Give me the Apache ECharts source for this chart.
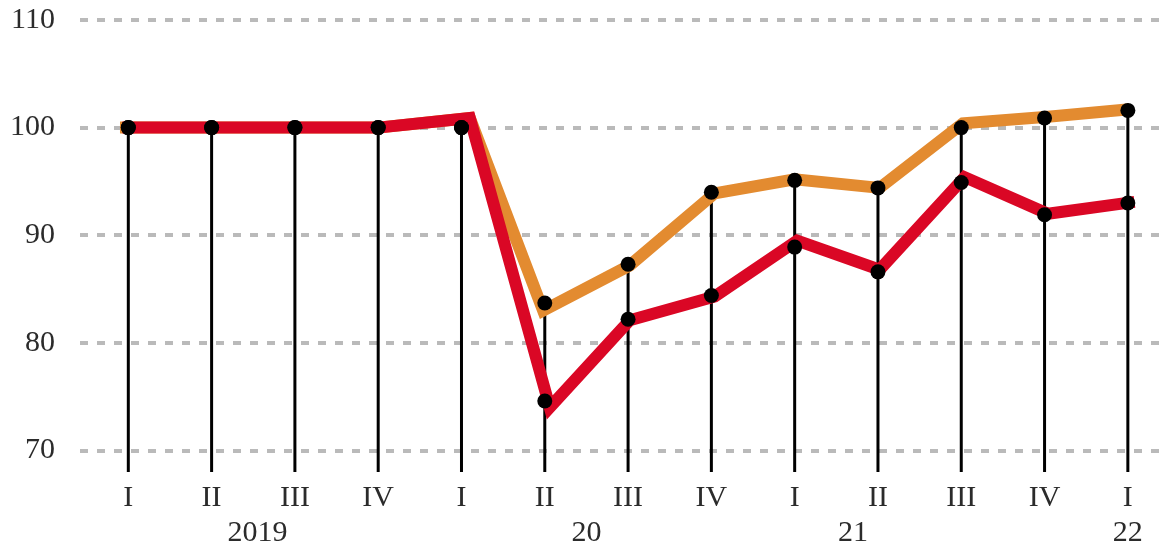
<!DOCTYPE html>
<html>
<head>
<meta charset="utf-8">
<script src="https://cdn.jsdelivr.net/npm/echarts@6/dist/echarts.min.js"></script>
<style>
  html, body { margin: 0; padding: 0; background: #fff; }
  #chart { width: 1167px; height: 550px; }
</style>
</head>
<body>
<div id="chart"></div>
<script>
// x labels
var quarterLabels = ['I', 'II', 'III', 'IV', 'I', 'II', 'III', 'IV', 'I', 'II', 'III', 'IV', 'I'];
var yearLabels = ['2019', '20', '21', '22'];
var yearPositions = [1.55, 5.5, 8.7, 12];
var yTicks = [70, 80, 90, 100, 110];

// black dots (upper = orange series, lower = red series)
var orangeDots = [100, 100, 100, 100, 100, 83.7, 87.3, 94.0, 95.1, 94.4, 100.0, 100.9, 101.6];
var redDots = [100, 100, 100, 100, 100, 74.6, 82.2, 84.4, 88.9, 86.6, 94.9, 91.9, 93.0];

// the coloured lines are drawn slightly off the dots in the original
var orangeLineX = [-0.1, 1, 2, 3, 4.1, 4.98, 6.02, 7.04, 8.0, 9.02, 10.02, 11.04, 12.02];
var orangeLineY = [100, 100, 100, 100, 100.9, 83.0, 87.2, 93.9, 95.2, 94.4, 100.4, 101.0, 101.7];
var redLineX = [-0.07, 1, 2, 3, 4.1, 5.06, 6.02, 7.04, 8.03, 9.02, 10.04, 11.04, 12.08];
var redLineY = [100, 100, 100, 100, 100.9, 74.0, 82.1, 84.3, 89.5, 86.8, 95.4, 92.0, 93.1];

var quarterIdx = quarterLabels.map(function (_, i) { return i; });
var fontFam = 'Liberation Serif';
var textColor = '#2b2b2b';

var chart = echarts.init(document.getElementById('chart'));
chart.setOption({
  animation: false,
  grid: { left: 80, right: 0, top: 20, bottom: 78 },
  xAxis: [{
    type: 'value',
    min: -0.58,
    max: 12.47,
    position: 'bottom',
    axisLine: { show: false },
    axisTick: { show: false },
    splitLine: { show: false },
    axisLabel: {
      customValues: quarterIdx,
      formatter: function (v) { return quarterLabels[Math.round(v)]; },
      margin: 11,
      fontSize: 30,
      fontFamily: fontFam,
      color: textColor
    }
  }, {
    type: 'value',
    min: -0.58,
    max: 12.47,
    position: 'bottom',
    axisLine: { show: false },
    axisTick: { show: false },
    splitLine: { show: false },
    axisLabel: {
      customValues: yearPositions,
      formatter: function (v) { return yearLabels[yearPositions.indexOf(v)]; },
      margin: 46,
      fontSize: 30,
      fontFamily: fontFam,
      color: textColor
    }
  }],
  yAxis: {
    type: 'value',
    min: 68,
    max: 110,
    axisLine: { show: false },
    axisTick: { show: false },
    splitLine: { show: false },
    axisLabel: {
      customValues: yTicks,
      margin: 25,
      fontSize: 30,
      fontFamily: fontFam,
      color: textColor
    }
  },
  series: [
    {
      // holder for dashed grid lines
      type: 'line',
      data: [],
      markLine: {
        silent: true,
        z: 1,
        symbol: ['none', 'none'],
        label: { show: false },
        lineStyle: { type: [8, 9], width: 4, color: '#bababa' },
        data: yTicks.map(function (v) { return { yAxis: v }; })
      }
    },
    {
      name: 'stems',
      type: 'bar',
      barWidth: 3,
      z: 2,
      itemStyle: { color: '#000' },
      data: orangeDots.map(function (v, i) { return [i, v]; })
    },
    {
      name: 'orange',
      type: 'line',
      z: 3,
      symbol: 'none',
      lineStyle: { width: 12, color: '#e38b30', join: 'miter', cap: 'butt' },
      data: orangeLineX.map(function (x, i) { return [x, orangeLineY[i]]; })
    },
    {
      name: 'red',
      type: 'line',
      z: 4,
      symbol: 'none',
      lineStyle: { width: 12, color: '#da0725', join: 'miter', cap: 'butt' },
      data: redLineX.map(function (x, i) { return [x, redLineY[i]]; })
    },
    {
      name: 'dots',
      type: 'scatter',
      z: 5,
      symbolSize: 15,
      itemStyle: { color: '#000', opacity: 1 },
      data: orangeDots.map(function (v, i) { return [i, v]; })
        .concat(redDots.map(function (v, i) { return [i, v]; }))
    }
  ]
});
</script>
</body>
</html>
